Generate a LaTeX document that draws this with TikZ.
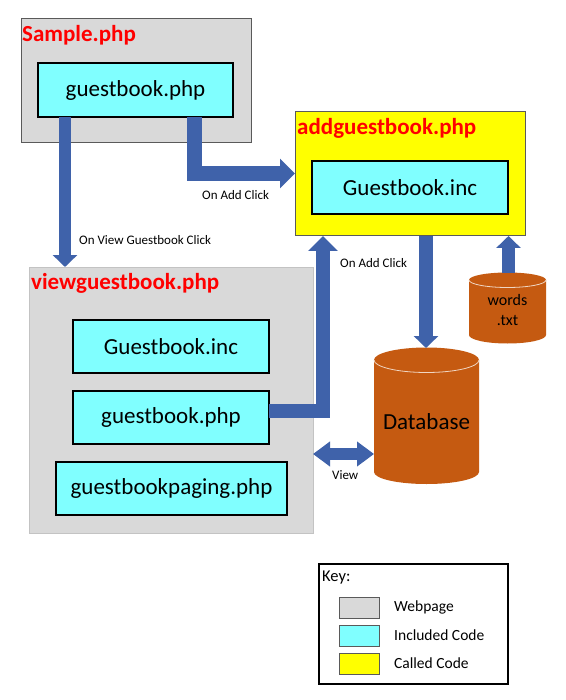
\documentclass[tikz,border=0pt]{standalone}
\usepackage{fontspec}
\setmainfont{Carlito}
\usetikzlibrary{arrows.meta,calc}
\definecolor{pagegray}{HTML}{D9D9D9}
\definecolor{incl}{HTML}{80FFFF}
\definecolor{called}{HTML}{FFFF00}
\definecolor{arrowblue}{HTML}{3F62AA}
\definecolor{dborange}{HTML}{C55A11}
\definecolor{bordergray}{HTML}{5A5A5A}
\definecolor{titlered}{HTML}{FF0000}
\tikzset{
  pagebox/.style={fill=pagegray, draw=bordergray, line width=1pt, anchor=north west, inner sep=0pt, outer sep=0pt},
  calledbox/.style={fill=called, draw=bordergray, line width=1pt, anchor=north west, inner sep=0pt, outer sep=0pt},
  inclbox/.style={fill=incl, draw=black, line width=2pt, anchor=north west, inner sep=0pt, outer sep=0pt, font=\fontsize{23}{27}\selectfont},
  titletext/.style={anchor=west, inner sep=0pt, text=titlered, font=\fontsize{23}{27}\selectfont\bfseries},
  smalllabel/.style={anchor=west, inner sep=0pt, font=\fontsize{13}{15}\selectfont},
  blk/.style={draw=arrowblue, line width=#1, line cap=butt, line join=miter},
  keyswatch/.style={draw=bordergray, line width=1pt, anchor=north west, inner sep=0pt, outer sep=0pt, minimum width=40pt, minimum height=21pt},
  keylabel/.style={anchor=west, inner sep=0pt, font=\fontsize{15.5}{18}\selectfont},
  cyl/.style={fill=dborange, draw=none},
  cyltop/.style={draw=white!75!dborange, line width=0.8pt}
}
\begin{document}
\begin{tikzpicture}[x=1pt,y=-1pt]
\useasboundingbox[fill=white] (0,0) rectangle (565,700);

% ---------- Sample.php ----------
\node[pagebox, minimum width=230pt, minimum height=124pt] (sp) at (21,19) {};
\node[titletext] (sptitle) at (22,35) {Sample.php};
\node[inclbox, minimum width=195pt, minimum height=54pt] (sgb) at (38,63) {guestbook.php};

% ---------- addguestbook.php ----------
\node[calledbox, minimum width=230pt, minimum height=124pt] (ag) at (295,112) {};
\node[titletext] (agtitle) at (297,128) {addguestbook.php};
\node[inclbox, minimum width=196pt, minimum height=53pt] (agi) at (312,161) {Guestbook.inc};

% ---------- viewguestbook.php ----------
\node[fill=pagegray, draw=pagegray!90!black, line width=0.6pt, anchor=north west, inner sep=0pt, outer sep=0pt, minimum width=284pt, minimum height=266pt] (vg) at (29,267) {};
\node[titletext] (vgtitle) at (31,283) {viewguestbook.php};
\node[inclbox, minimum width=196pt, minimum height=53pt] (vgi) at (73,320) {Guestbook.inc};
\node[inclbox, minimum width=196pt, minimum height=53pt] (vgb) at (73,391) {guestbook.php};
\node[inclbox, minimum width=231pt, minimum height=53pt] (vgp) at (56,462) {guestbookpaging.php};

% ---------- Database cylinder ----------
\path[cyl] (374,360) -- (374,472) arc[start angle=180, end angle=0, x radius=52.5, y radius=12]
  -- (479,360) arc[start angle=0, end angle=-180, x radius=52.5, y radius=12.5] -- cycle;
\draw[cyltop] (374,360) arc[start angle=180, end angle=0, x radius=52.5, y radius=12.5];
\node[inner sep=0pt, outer sep=0pt, minimum width=105pt, minimum height=136pt, font=\fontsize{23}{27}\selectfont] (db) at (426.5,416) {};
\node[inner sep=0pt, font=\fontsize{23}{27}\selectfont] (dbtext) at (426.5,422) {Database};

% ---------- words.txt cylinder ----------
\path[cyl] (469,280) -- (469,335) arc[start angle=180, end angle=0, x radius=38.5, y radius=8.5]
  -- (546,280) arc[start angle=0, end angle=-180, x radius=38.5, y radius=7.5] -- cycle;
\draw[cyltop] (469,280) arc[start angle=180, end angle=0, x radius=38.5, y radius=7.5];
\node[inner sep=0pt, outer sep=0pt, minimum width=77pt, minimum height=70pt] (wd) at (507.5,307.5) {};
\node[inner sep=0pt, align=center, font=\fontsize{16}{20}\selectfont] (wdtext) at (507.5,310) {words\\.txt};

% ---------- Arrows ----------
\coordinate (c1) at (65,0);
\draw[blk=12pt, -{Triangle[length=12pt,width=24pt]}] (sgb.south -| c1) -- (vg.north -| c1);
\node[smalllabel] (l1) at (79,240) {On View Guestbook Click};

\coordinate (c2) at (194.5,173.5);
\draw[blk=15pt, -{Triangle[length=15pt,width=29pt]}] (sgb.south -| c2) |- (ag.west |- c2);
\node[smalllabel] (l2) at (202,195) {On Add Click};

\coordinate (c3) at (323,411);
\draw[blk=14pt, -{Triangle[length=15pt,width=29pt]}] (vgb.east |- c3) -| (ag.south -| c3);
\node[smalllabel] (l3) at (340,263) {On Add Click};

\coordinate (c4) at (426,0);
\draw[blk=14pt, -{Triangle[length=12pt,width=24pt]}] (ag.south -| c4) -- (db.north -| c4);

\coordinate (c5) at (508.5,0);
\draw[blk=13pt, -{Triangle[length=12pt,width=24pt]}] (wd.north -| c5) -- (ag.south -| c5);

\coordinate (c6) at (0,454);
\draw[blk=12pt, {Triangle[length=17pt,width=24pt]}-{Triangle[length=17pt,width=24pt]}] (vg.east |- c6) -- (db.west |- c6);
\node[smalllabel] (l6) at (332,475) {View};

% ---------- Key ----------
\node[draw=black, line width=2pt, fill=white, anchor=north west, inner sep=0pt, outer sep=0pt, minimum width=189pt, minimum height=120pt] (key) at (319,564) {};
\node[anchor=west, inner sep=0pt, font=\fontsize{16.5}{19}\selectfont] (keytitle) at (322,578) {Key:};
\node[keyswatch, fill=pagegray] (k1) at (339,597) {};
\node[keyswatch, fill=incl] (k2) at (339,625) {};
\node[keyswatch, fill=called] (k3) at (339,653) {};
\node[keylabel] (k1l) at (394,607) {Webpage};
\node[keylabel] (k2l) at (394,635) {Included Code};
\node[keylabel] (k3l) at (394,663) {Called Code};
\end{tikzpicture}
\end{document}
